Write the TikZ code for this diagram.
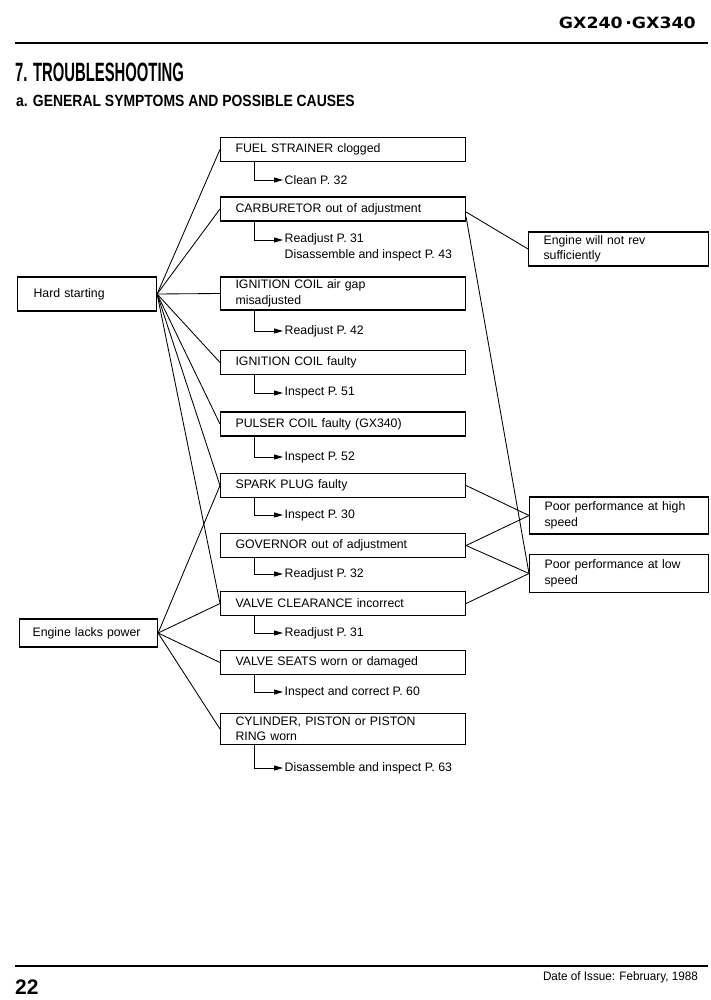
\documentclass[tikz,border=0pt]{standalone}
\usepackage{fontspec}
\setmainfont{Liberation Sans}
\newfontfamily\modelfont{DejaVu Sans}[FakeStretch=1.12]
\newfontfamily\titlefont{Liberation Sans}[FakeStretch=0.56]
\newfontfamily\subfont{Liberation Sans}[FakeStretch=0.86]
\newfontfamily\datefont{Liberation Sans}[FakeStretch=0.95]
\usetikzlibrary{arrows.meta}

\tikzset{
  cause/.style={draw, line width=1.1pt, anchor=west, minimum width=245pt, minimum height=24pt,
    text width=215pt, inner xsep=15pt, inner ysep=3pt, align=left},
  symptom/.style={draw, line width=1.1pt, anchor=west, minimum height=34pt,
    inner xsep=15pt, inner ysep=3pt, align=left},
  fix/.style={anchor=west, inner xsep=1.5pt, inner ysep=1pt, align=left},
  fixline/.style={line width=0.9pt, -{Triangle[length=9pt,width=5pt]}},
  link/.style={line width=0.85pt}
}

\begin{document}
\begin{tikzpicture}[x=1pt, y=-1pt, font=\fontsize{12.3}{15.5}\selectfont]
\useasboundingbox (0,0) rectangle (710,1000);

\node[anchor=east, inner sep=0, font=\modelfont\bfseries\fontsize{15.5}{18}\selectfont] (model) at (696,23) {GX240\,·GX340};
\draw[line width=2.6pt] (15,43) -- (708,43);
\node[anchor=west, inner sep=0, font=\titlefont\bfseries\fontsize{26.5}{30}\selectfont] (title) at (15,72.5) {7. TROUBLESHOOTING};
\node[anchor=west, inner sep=0, font=\subfont\bfseries\fontsize{16.2}{19}\selectfont] (subtitle) at (16,101) {a. GENERAL SYMPTOMS AND POSSIBLE CAUSES};

\node[symptom, minimum width=139pt, text width=107pt, inner xsep=16pt] (hard) at (17,294) {Hard starting};
\node[symptom, minimum width=138pt, minimum height=28pt, text width=112pt, inner xsep=13pt] (lacks) at (19,633) {Engine lacks power};

\node[cause] (fuel) at (220,149.5) {FUEL STRAINER clogged};
\node[cause] (carb) at (220,209) {CARBURETOR out of adjustment};
\node[cause] (gap) at (220,293.5) {IGNITION COIL air gap\\misadjusted};
\node[cause] (coil) at (220,362.5) {IGNITION COIL faulty};
\node[cause] (pulser) at (220,424) {PULSER COIL faulty (GX340)};
\node[cause] (plug) at (220,485.5) {SPARK PLUG faulty};
\node[cause] (gov) at (220,545.5) {GOVERNOR out of adjustment};
\node[cause] (valve) at (220,603.5) {VALVE CLEARANCE incorrect};
\node[cause] (seats) at (220,662.5) {VALVE SEATS worn or damaged};
\node[cause] (cyl) at (220,729) {CYLINDER, PISTON or PISTON\\RING worn};

\node[fix] (clean) at (283,180) {Clean P. 32};
\node[fix] (carbfix) at (283,247.5) {Readjust P. 31\\Disassemble and inspect P. 43};
\node[fix] (gapfix) at (283,331) {Readjust P. 42};
\node[fix] (coilfix) at (283,393) {Inspect P. 51};
\node[fix] (pulserfix) at (283,457) {Inspect P. 52};
\node[fix] (plugfix) at (283,515) {Inspect P. 30};
\node[fix] (govfix) at (283,574) {Readjust P. 32};
\node[fix] (valvefix) at (283,633) {Readjust P. 31};
\node[fix] (seatsfix) at (283,692) {Inspect and correct P. 60};
\node[fix] (cylfix) at (283,768) {Disassemble and inspect P. 63};

\node[symptom, minimum width=180pt, text width=150pt] (rev) at (528,249) {Engine will not rev\\sufficiently};
\node[symptom, minimum width=179pt, minimum height=37pt, text width=149pt] (high) at (529,515.5) {Poor performance at high\\speed};
\node[symptom, minimum width=179pt, minimum height=38pt, text width=149pt] (low) at (529,573.5) {Poor performance at low\\speed};

\draw[fixline] ([xshift=34pt]fuel.south west) |- (clean.west);
\draw[fixline] ([xshift=34pt]carb.south west) |- ([yshift=7.5pt]carbfix.west);
\draw[fixline] ([xshift=34pt]gap.south west) |- (gapfix.west);
\draw[fixline] ([xshift=34pt]coil.south west) |- (coilfix.west);
\draw[fixline] ([xshift=34pt]pulser.south west) |- (pulserfix.west);
\draw[fixline] ([xshift=34pt]plug.south west) |- (plugfix.west);
\draw[fixline] ([xshift=34pt]gov.south west) |- (govfix.west);
\draw[fixline] ([xshift=34pt]valve.south west) |- (valvefix.west);
\draw[fixline] ([xshift=34pt]seats.south west) |- (seatsfix.west);
\draw[fixline] ([xshift=34pt]cyl.south west) |- (cylfix.west);

\draw[link] (hard.east) -- (fuel.west);
\draw[link] (hard.east) -- (carb.west);
\draw[link] (hard.east) -- (gap.west);
\draw[link] (hard.east) -- (coil.west);
\draw[link] (hard.east) -- (pulser.west);
\draw[link] (hard.east) -- (plug.west);
\draw[link] (hard.east) -- (valve.west);
\draw[link] (lacks.east) -- (plug.west);
\draw[link] (lacks.east) -- (valve.west);
\draw[link] (lacks.east) -- (seats.west);
\draw[link] (lacks.east) -- (cyl.west);

\draw[link] ([yshift=-3pt]carb.east) -- (rev.west);
\draw[link] ([yshift=-8pt]carb.east) -- (low.west);
\draw[link] (plug.east) -- (high.west);
\draw[link] (gov.east) -- (high.west);
\draw[link] (gov.east) -- (low.west);
\draw[link] (valve.east) -- (low.west);

\draw[line width=2.6pt] (15,966) -- (708,966);
\node[anchor=west, inner sep=0, font=\bfseries\fontsize{21}{24}\selectfont] (page) at (15,987) {22};
\node[anchor=east, inner sep=0, font=\datefont\fontsize{12.3}{15}\selectfont] (issue) at (698,977) {Date of Issue: February, 1988};
\end{tikzpicture}
\end{document}
